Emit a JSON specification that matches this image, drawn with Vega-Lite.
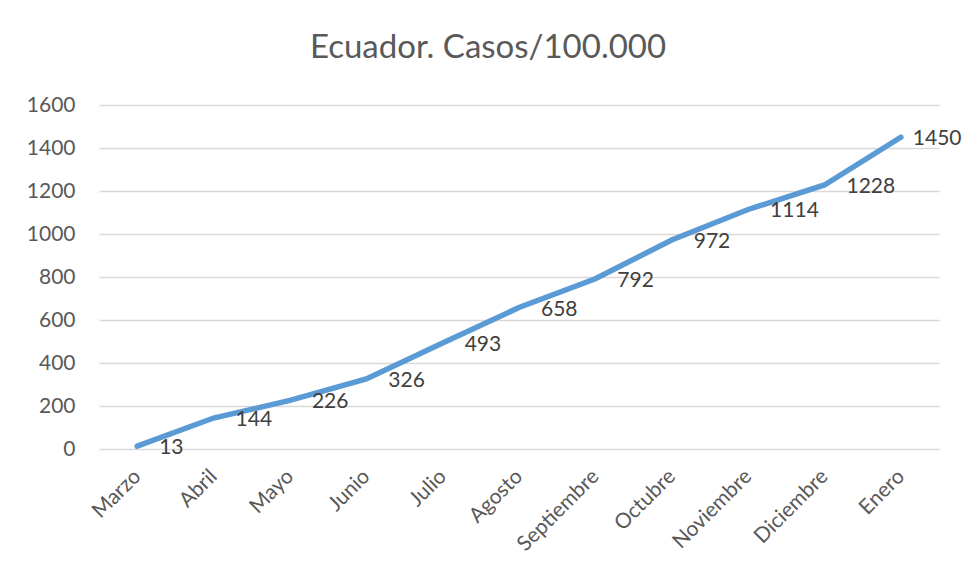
{
  "$schema": "https://vega.github.io/schema/vega-lite/v6.json",
  "width": 840,
  "height": 344,
  "padding": {"left": 26, "top": 32, "right": 24, "bottom": 10},
  "background": "white",
  "title": {
    "text": "Ecuador. Casos/100.000",
    "fontSize": 33,
    "font": "Lato",
    "fontWeight": "normal",
    "color": "#595959",
    "anchor": "middle",
    "offset": 34,
    "dx": -31,
    "dy": 5
  },
  "data": {
    "values": [
      {"mes": "Marzo", "casos": 13},
      {"mes": "Abril", "casos": 144},
      {"mes": "Mayo", "casos": 226},
      {"mes": "Junio", "casos": 326},
      {"mes": "Julio", "casos": 493},
      {"mes": "Agosto", "casos": 658},
      {"mes": "Septiembre", "casos": 792},
      {"mes": "Octubre", "casos": 972},
      {"mes": "Noviembre", "casos": 1114},
      {"mes": "Diciembre", "casos": 1228},
      {"mes": "Enero", "casos": 1450}
    ]
  },
  "encoding": {
    "x": {
      "field": "mes",
      "type": "ordinal",
      "sort": null,
      "scale": {"type": "point", "padding": 0.5},
      "axis": {
        "title": null,
        "labelAngle": -45,
        "labelAlign": "right",
        "labelBaseline": "middle",
        "labelFontSize": 21,
        "labelFont": "Lato",
        "labelColor": "#595959",
        "labelPadding": 24,
        "ticks": false,
        "domain": false,
        "grid": false
      }
    },
    "y": {
      "field": "casos",
      "type": "quantitative",
      "scale": {"domain": [0, 1600], "nice": false},
      "axis": {
        "title": null,
        "format": "d",
        "values": [0, 200, 400, 600, 800, 1000, 1200, 1400, 1600],
        "labelFontSize": 21,
        "labelFont": "Lato",
        "labelColor": "#595959",
        "labelPadding": 24,
        "ticks": false,
        "domain": false,
        "grid": true,
        "gridColor": "#D9D9D9",
        "gridWidth": 1.3
      }
    }
  },
  "layer": [
    {
      "mark": {"type": "line", "color": "#5B9BD5", "strokeWidth": 5.5, "strokeCap": "round"}
    },
    {
      "transform": [{"filter": "datum.mes !== 'Enero'"}],
      "mark": {"type": "text", "align": "left", "baseline": "middle", "dx": 22, "dy": 2, "fontSize": 21, "font": "Lato", "color": "#404040"},
      "encoding": {"text": {"field": "casos", "type": "quantitative"}}
    },
    {
      "transform": [{"filter": "datum.mes === 'Enero'"}],
      "mark": {"type": "text", "align": "left", "baseline": "middle", "dx": 12, "dy": 2, "fontSize": 21, "font": "Lato", "color": "#404040"},
      "encoding": {"text": {"field": "casos", "type": "quantitative"}}
    }
  ],
  "config": {"view": {"stroke": null}}
}
